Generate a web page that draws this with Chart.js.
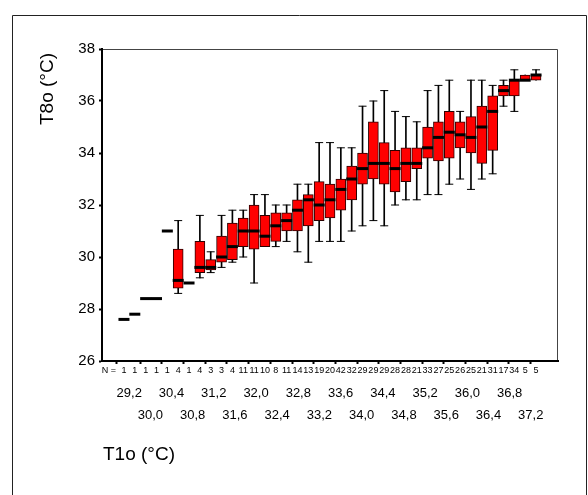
<!DOCTYPE html>
<html>
<head>
<meta charset="utf-8">
<script src="https://cdn.jsdelivr.net/npm/chart.js"></script>
<style>
  body { margin: 0; background: #fff; }
</style>
</head>
<body>
<canvas id="boxChart" width="588" height="495"></canvas>
<script>
// T1o 類別（x 軸）
const categories = ["29,2","29,6","30,0","30,2","30,4","30,6","30,8","31,0","31,2","31,4",
    "31,6","31,8","32,0","32,2","32,4","32,6","32,8","33,0","33,2","33,4",
    "33,6","33,8","34,0","34,2","34,4","34,6","34,8","35,0","35,2","35,4",
    "35,6","35,8","36,0","36,2","36,4","36,6","36,8","37,0","37,2"];
// 每組樣本數 N
const counts = [1,1,1,1,1,4,1,4,3,3,4,11,11,10,8,11,14,13,19,20,
    42,32,29,29,29,28,28,21,33,27,25,26,25,21,31,17,34,5,5];
// 箱形圖五數（T8o）
const minVals = [27.6,27.8,28.4,28.4,31.0,28.6,29.0,29.2,29.4,29.6,
    29.8,30.0,29.0,30.4,30.4,30.6,30.2,29.8,30.6,30.6,
    30.6,31.0,31.2,31.4,31.2,32.0,32.2,32.2,32.4,32.4,
    32.8,33.0,32.6,33.0,33.2,35.8,35.6,36.8,36.8];
const q1Vals = [27.6,27.8,28.4,28.4,31.0,28.8,29.0,29.4,29.5,29.8,
    29.9,30.4,30.3,30.4,30.6,31.0,31.0,31.2,31.4,31.5,
    31.8,32.2,32.8,33.0,32.8,32.5,32.9,33.4,33.8,33.7,
    33.8,34.2,34.0,33.6,34.1,36.2,36.2,36.8,36.8];
const medVals = [27.6,27.8,28.4,28.4,31.0,29.1,29.0,29.6,29.6,30.0,
    30.4,31.0,31.0,30.8,31.2,31.4,31.8,32.2,32.0,32.2,
    32.6,33.0,33.4,33.6,33.6,33.4,33.6,33.6,34.2,34.6,
    34.8,34.7,34.6,35.0,35.6,36.4,36.8,36.8,37.0];
const q3Vals = [27.6,27.8,28.4,28.4,31.0,30.3,29.0,30.6,29.9,30.8,
    31.3,31.5,32.0,31.6,31.7,31.7,32.2,32.4,32.9,32.8,
    33.0,33.5,34.0,35.2,34.4,34.1,34.2,34.2,35.0,35.2,
    35.6,35.2,35.4,35.8,36.2,36.6,36.8,37.0,37.0];
const maxVals = [27.6,27.8,28.4,28.4,31.0,31.4,29.0,31.6,30.2,31.6,
    31.8,31.8,32.4,32.4,32.0,32.0,32.8,32.8,34.4,34.4,
    34.2,34.2,35.8,36.0,36.4,35.6,35.4,35.2,36.4,36.6,
    36.8,35.6,36.8,36.8,36.6,36.8,37.2,37.0,37.2];

const FONT = '"Liberation Sans", Arial, sans-serif';
const idx = categories.map((c, i) => i);

const whiskerData = idx.filter(i => maxVals[i] > minVals[i]).map(i => ({ x: i, y: [minVals[i], maxVals[i]] }));
const boxData = idx.filter(i => q3Vals[i] > q1Vals[i]).map(i => ({ x: i, y: [q1Vals[i], q3Vals[i]] }));
const medianData = idx.map(i => ({ x: i, y: medVals[i] }));
const capData = [];
idx.forEach(i => {
    if (maxVals[i] > q3Vals[i]) capData.push({ x: i, y: maxVals[i] });
    if (minVals[i] < q1Vals[i]) capData.push({ x: i, y: minVals[i] });
});

// 外框、標題
const framePlugin = {
    id: "frame",
    beforeDraw(chart) {
        const c = chart.ctx;
        const a = chart.chartArea;
        c.save();
        c.fillStyle = "#fff";
        c.fillRect(0, 0, chart.width, chart.height);
        c.strokeStyle = "#222";
        c.lineWidth = 1;
        c.beginPath();
        c.moveTo(12.5, chart.height);
        c.lineTo(12.5, 15.5);
        c.lineTo(586.5, 15.5);
        c.lineTo(586.5, chart.height);
        c.stroke();
        c.strokeStyle = "#444";
        c.beginPath();
        c.moveTo(a.left, a.top + 0.5);
        c.lineTo(a.right - 0.5, a.top + 0.5);
        c.lineTo(a.right - 0.5, a.bottom);
        c.stroke();
        c.fillStyle = "#000";
        c.font = "19px " + FONT;
        c.textBaseline = "middle";
        c.textAlign = "left";
        c.fillText("T1o (°C)", 103, 455);
        c.translate(48, 89);
        c.rotate(-Math.PI / 2);
        c.textAlign = "center";
        c.fillText("T8o (°C)", 0, 0);
        c.restore();
    }
};

const ctx = document.getElementById("boxChart").getContext("2d");
const chart = new Chart(ctx, {
    type: "bar",
    data: {
        datasets: [
            {
                type: "scatter",
                data: medianData,
                pointStyle: "line",
                pointRadius: 5.5,
                borderWidth: 3,
                borderColor: "#000",
                order: 0
            },
            {
                type: "scatter",
                data: capData,
                pointStyle: "line",
                pointRadius: 4,
                borderWidth: 1,
                borderColor: "#000",
                order: 1
            },
            {
                data: boxData,
                grouped: false,
                barPercentage: 1,
                categoryPercentage: 1,
                maxBarThickness: 10,
                backgroundColor: "#ff0000",
                borderColor: "#2a0000",
                borderWidth: 1,
                borderSkipped: false,
                order: 2
            },
            {
                data: whiskerData,
                grouped: false,
                barPercentage: 1,
                categoryPercentage: 1,
                maxBarThickness: 1,
                backgroundColor: "#000",
                borderWidth: 0,
                order: 3
            }
        ]
    },
    options: {
        responsive: false,
        animation: false,
        events: [],
        layout: { padding: { left: 0, top: 49, right: 30, bottom: 0 } },
        plugins: { legend: { display: false }, tooltip: { enabled: false } },
        scales: {
            x: {
                type: "linear",
                position: "bottom",
                weight: 0,
                min: -1.5,
                max: 39.5,
                afterBuildTicks: axis => { axis.ticks = [{ value: -1.4 }].concat(idx.map(i => ({ value: i }))); },
                afterFit: axis => { axis.height = 16; },
                ticks: {
                    autoSkip: false,
                    maxRotation: 0,
                    padding: 1,
                    color: "#000",
                    font: { family: FONT, size: 9 },
                    callback: v => v < 0 ? "N =" : String(counts[v])
                },
                grid: {
                    drawOnChartArea: false,
                    tickLength: 3,
                    tickWidth: 2,
                    tickColor: c => (c.tick && c.tick.value >= 0 && c.tick.value % 2 === 0) ? "#000" : "rgba(0,0,0,0)"
                },
                border: { color: "#000", width: 2 }
            },
            x2: {
                type: "linear",
                position: "bottom",
                weight: 1,
                min: -1.5,
                max: 39.5,
                afterBuildTicks: axis => { axis.ticks = idx.filter(i => i % 2 === 0).map(i => ({ value: i })); },
                afterFit: axis => { axis.height = 118; },
                ticks: {
                    autoSkip: false,
                    maxRotation: 0,
                    padding: -3,
                    color: "#000",
                    font: { family: FONT, size: 13, lineHeight: 1.7 },
                    callback: v => (v % 4 === 0) ? [categories[v], ""] : ["", categories[v]]
                },
                grid: { display: false },
                border: { display: false }
            },
            y: {
                min: 26,
                max: 38,
                afterFit: axis => { axis.width = 102; },
                ticks: { stepSize: 2, padding: 4, color: "#000", font: { family: FONT, size: 15 } },
                grid: { drawOnChartArea: false, tickLength: 3, tickWidth: 2, tickColor: "#000" },
                border: { color: "#000", width: 2 }
            }
        }
    }
    ,
    plugins: [framePlugin]
});
</script>
</body>
</html>
